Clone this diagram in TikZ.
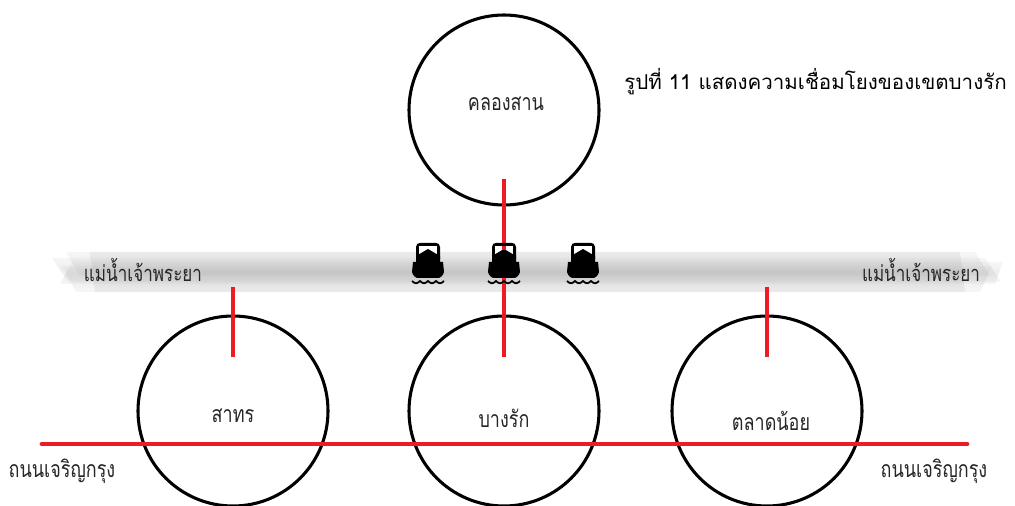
\documentclass[tikz,border=0pt]{standalone}
\usepackage{fontspec}
\newfontfamily\thaifont[Script=Thai]{Loma}
\newfontfamily\thainarrow[Script=Thai,FakeStretch=0.78]{Loma}
\usetikzlibrary{shadings}
\definecolor{roadred}{HTML}{ED1C24}
\pgfdeclareverticalshading{riverband}{100bp}{
  color(0bp)=(black!6);
  color(30bp)=(black!20);
  color(50bp)=(black!34);
  color(70bp)=(black!20);
  color(100bp)=(black!6)}
\tikzset{
  x=0.75pt,y=-0.75pt,
  district/.style={circle,draw=black,line width=2.3pt,minimum size=142.5pt,inner sep=0pt},
  label/.style={font=\thainarrow\fontsize{17.3pt}{19pt}\selectfont,text=black!85,inner sep=0pt},
  riverlabel/.style={label,font=\thainarrow\fontsize{16.4pt}{19pt}\selectfont},
  title/.style={font=\thaifont\fontsize{15.4pt}{18pt}\selectfont,inner sep=0pt,anchor=west},
  link/.style={draw=roadred,line width=2.4pt},
  road/.style={draw=roadred,line width=3.6pt,line cap=round},
  streak/.style={shading=riverband,draw=none,opacity=.2},
  core/.style={shading=riverband,draw=none,opacity=.3},
  boat/.pic={
    \fill[black,even odd rule] (-12,-18) .. controls (-12,-21) and (-10,-22) .. (-8,-22) -- (8,-22) .. controls (10,-22) and (12,-21) .. (12,-18) -- (12,-6) -- (-12,-6) -- cycle
      (-9,-18.5) -- (9,-18.5) -- (9,-8) -- (-9,-8) -- cycle;
    \fill[white] (-9,-18.5) -- (9,-18.5) -- (9,-10) -- (-9,-10) -- cycle;
    \fill[black] (0,-16) -- (12,-9) -- (12,-3) -- (15,-3) -- (16,7) .. controls (15,11) and (12,13) .. (10,13) -- (-10,13) .. controls (-12,13) and (-15,11) .. (-16,7) -- (-15,-3) -- (-12,-3) -- (-12,-9) -- cycle;
    \draw[black,line width=1.3pt] (-16,16) .. controls (-13,19) and (-11,19) .. (-8,16) .. controls (-5,19) and (-3,19) .. (0,16) .. controls (3,19) and (5,19) .. (8,16) .. controls (11,19) and (13,19) .. (16,16);
  }
}
\begin{document}
\begin{tikzpicture}
\useasboundingbox (0,0) rectangle (1015,506);
% river: overlapping brush strokes
\path[streak] (66,252) -- (975,252) -- (990,276) -- (80,276) -- cycle;
\path[streak] (52,258) -- (985,258) -- (1001,282) -- (68,282) -- cycle;
\path[streak] (62,266) -- (992,266) -- (980,292) -- (76,292) -- cycle;
\path[streak] (72,262) -- (1003,262) -- (995,284) -- (60,284) -- cycle;
\path[core] (90,252) -- (960,252) -- (965,292) -- (95,292) -- cycle;
% districts
\node[district] (khlong) at (504,110) {};
\node[district] (sathon) at (233,411) {};
\node[district] (bangrak) at (504,411) {};
\node[district] (talat) at (767,411) {};
% named ends
\coordinate (khlongdown) at (504,179);
\coordinate (bangrakup) at (504,357);
\coordinate (riverA) at (233,287);
\coordinate (sathonup) at (233,357);
\coordinate (riverC) at (767,287);
\coordinate (talatup) at (767,357);
\coordinate (roadW) at (42,444);
\coordinate (roadE) at (967,444);
\coordinate (boatwintop) at (504,246);
\coordinate (boatwinlow) at (504,250);
% connectors
\draw[link] (khlongdown) -- (bangrakup);
\draw[link] (riverA) -- (sathonup);
\draw[link] (riverC) -- (talatup);
\draw[road] (roadW) -- (roadE);
% boats
\pic at (428,265) {boat};
\pic at (504,265) {boat};
\pic at (583,265) {boat};
\draw[link] (boatwintop) -- (boatwinlow);
% labels
\node[label] (l1) at (506,104) {คลองสาน};
\node[label] (l2) at (233,416) {สาทร};
\node[label] (l3) at (504,418) {บางรัก};
\node[label] (l4) at (771,421) {ตลาดน้อย};
\node[riverlabel] (r1) at (143,270) {แม่น้ำเจ้าพระยา};
\node[riverlabel] (r2) at (921,270) {แม่น้ำเจ้าพระยา};
\node[label] (s1) at (62,471) {ถนนเจริญกรุง};
\node[label] (s2) at (934,471) {ถนนเจริญกรุง};
\node[title] (t) at (624,82) {รูปที่ 11 แสดงความเชื่อมโยงของเขตบางรัก};
\end{tikzpicture}
\end{document}
